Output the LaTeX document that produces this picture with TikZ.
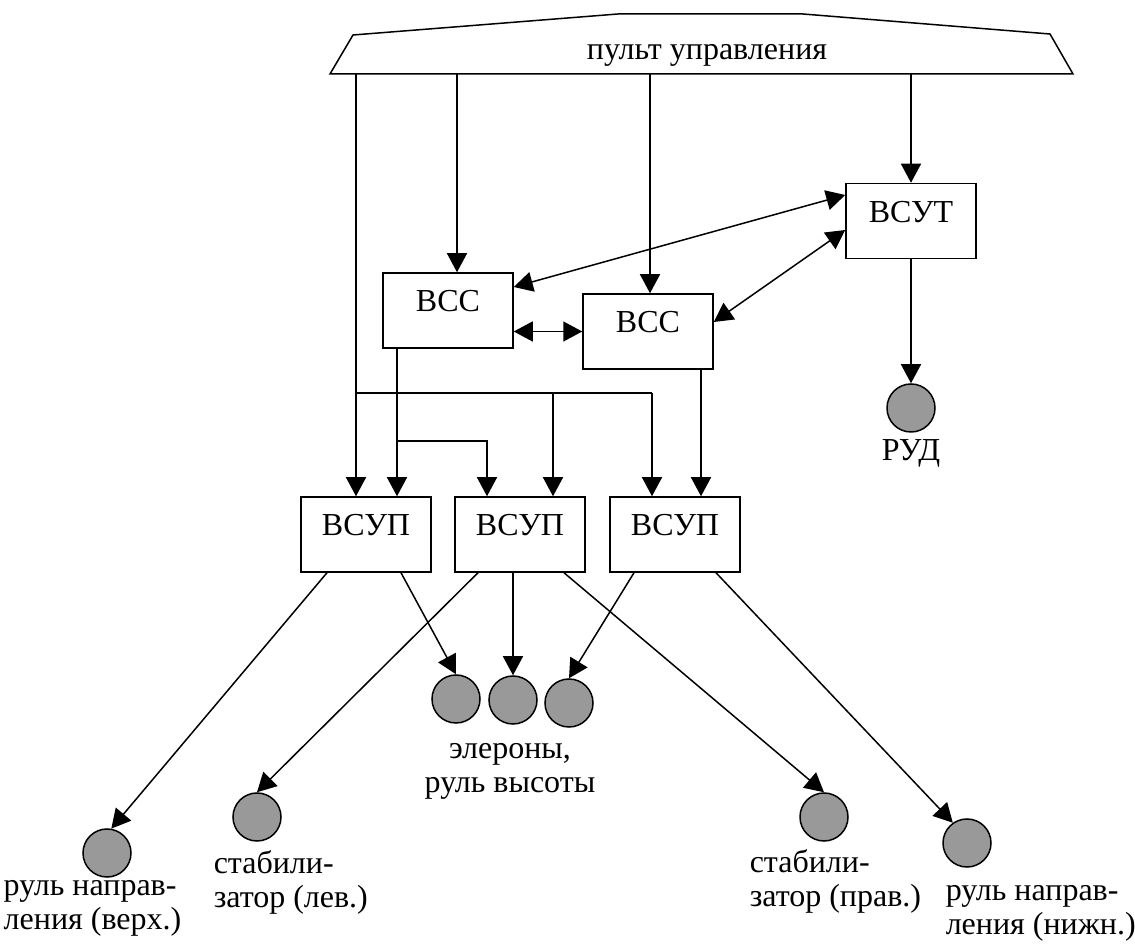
\documentclass[tikz,border=0pt]{standalone}
\usepackage{fontspec}
\setmainfont{Liberation Serif}
\usetikzlibrary{arrows.meta, positioning}
\usepackage{xcolor}
\definecolor{DiscGray}{RGB}{153,153,153}

\begin{document}
\begin{tikzpicture}[
  x=0.4pt, y=-0.4pt,
  font=\fontsize{12.8}{13.5}\selectfont,
  line width=0.6pt,
  unit/.style={draw, minimum width=52pt, minimum height=30pt, inner sep=0pt, text height=0.7em, text depth=0.6em},
  disc/.style={circle, draw, fill=DiscGray, minimum size=19.2pt, inner sep=0pt},
  arr/.style={-{Triangle[length=7.6pt, width=8pt]}},
  darr/.style={{Triangle[length=7.6pt, width=8pt]}-{Triangle[length=7.6pt, width=8pt]}},
  caption/.style={align=left, inner sep=0pt, anchor=north west}
  ]
\useasboundingbox (0,0) rectangle (1135,951);

% Control panel
\draw (330,74) -- (353,35) -- (618,14) -- (803,14) -- (1050,34) -- (1073,74) -- cycle;
\node[anchor=base] (pult) at (707,60) {пульт управления};
\coordinate (pA) at (356,74);
\coordinate (pB) at (457,74);
\coordinate (pC) at (650,74);
\coordinate (pD) at (911,74);

% Computers
\node[unit] (vsut) at (911,221) {ВСУТ};
\node[unit] (vss1) at (448,310.5) {ВСС};
\node[unit] (vss2) at (648,331.5) {ВСС};
\node[unit] (vsup1) at (366,534.5) {ВСУП};
\node[unit] (vsup2) at (520,534.5) {ВСУП};
\node[unit] (vsup3) at (675,534.5) {ВСУП};

% Actuators
\node[disc] (rud) at (911,408) {};
\node[disc] (el1) at (456,699) {};
\node[disc] (el2) at (513,700) {};
\node[disc] (el3) at (569,703) {};
\node[disc] (stabL) at (257,817) {};
\node[disc] (stabR) at (824,817) {};
\node[disc] (rnvT) at (107,853) {};
\node[disc] (rnvB) at (967,843) {};

% Captions
\node[anchor=base] (rudtxt) at (911,461) {РУД};
\node[align=center, inner sep=0pt, anchor=north] (eltxt) at (510,734) {\strut элероны,\\руль высоты};
\node[caption] (rnvTtxt) at (3,871) {\strut руль направ-\\ления (верх.)};
\node[caption] (stabLtxt) at (213,849) {\strut стабили-\\затор (лев.)};
\node[caption] (stabRtxt) at (749,848) {\strut стабили-\\затор (прав.)};
\node[caption] (rnvBtxt) at (945,876) {\strut руль направ-\\ления (нижн.)};

% From the panel
\draw[arr] (pA) -- (pA |- vsup1.north);
\draw[arr] (pB) -- (pB |- vss1.north);
\draw[arr] (pC) -- (pC |- vss2.north);
\draw[arr] (pD) -- (vsut.north);

% Panel bus to the lower units
\coordinate (busL) at (356,393);
\coordinate (busM) at (553,393);
\coordinate (busR) at (652,393);
\draw (busL) -- (busR);
\draw[arr] (busM) -- (busM |- vsup2.north);
\draw[arr] (busR) -- (busR |- vsup3.north);

% From the ВСС units
\coordinate (tap1) at (397,441);
\coordinate (tap1r) at (487,441);
\coordinate (tap2) at (701,441);
\draw[arr] (vss1.south -| tap1) -- (tap1 |- vsup1.north);
\draw[arr] (tap1) -- (tap1r) -- (tap1r |- vsup2.north);
\draw[arr] (vss2.south -| tap2) -- (tap2 |- vsup3.north);

% Links between computers
\draw[darr] (vss1.east |- vss2.west) -- (vss2.west);
\draw[darr] ([yshift=9.4pt]vss1.east) -- ([yshift=10.4pt]vsut.west);
\draw[darr] ([yshift=3.8pt]vss2.east) -- ([yshift=-3.6pt]vsut.west);
\draw[arr] (vsut) -- (rud);

% To the surfaces
\draw[arr] ([xshift=-15.6pt]vsup1.south) -- (rnvT.80);
\draw[arr] ([xshift=14pt]vsup1.south) -- (el1.north);
\draw[arr] ([xshift=-16.8pt]vsup2.south) -- (stabL.north);
\draw[arr] (vsup2.south -| el2) -- (el2);
\draw[arr] ([xshift=17.6pt]vsup2.south) -- (stabR.north);
\draw[arr] ([xshift=-16.4pt]vsup3.south) -- (el3.north);
\draw[arr] ([xshift=16.4pt]vsup3.south) -- (rnvB.125);
\end{tikzpicture}
\end{document}
